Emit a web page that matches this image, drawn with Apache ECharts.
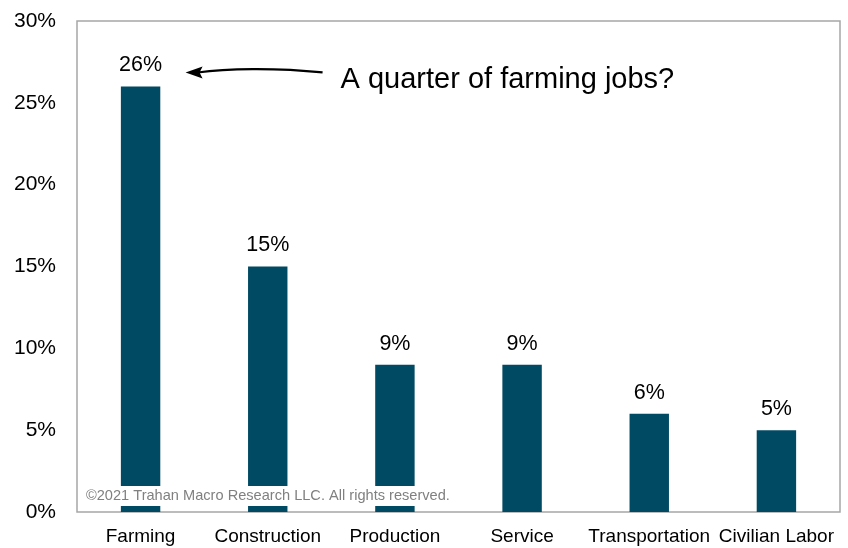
<!DOCTYPE html>
<html>
<head>
<meta charset="utf-8">
<script src="https://cdn.jsdelivr.net/npm/echarts@6/dist/echarts.min.js"></script>
<style>
  html, body { margin: 0; padding: 0; background: #fff; }
  #chart { width: 848px; height: 548px; }
</style>
</head>
<body>
<div id="chart"></div>
<script>
// Share of jobs by occupation group
const categories = ['Farming', 'Construction', 'Production', 'Service', 'Transportation', 'Civilian Labor'];
const shares = [26, 15, 9, 9, 6, 5];
const yTicks = { min: 0, max: 30, interval: 5 };
const noteText = 'A quarter of farming jobs?';
const copyrightText = '\u00a92021 Trahan Macro Research LLC. All rights reserved.';

const FONT = '"Liberation Sans", Arial, sans-serif';
const BAR = '#004A63';

const chart = echarts.init(document.getElementById('chart'), null, { renderer: 'canvas' });

chart.setOption({
  animation: false,
  backgroundColor: '#fff',
  grid: {
    left: 77, right: 8, top: 21, bottom: 36,
    show: true, borderColor: '#a6a6a6', borderWidth: 1.5, backgroundColor: 'transparent'
  },
  xAxis: {
    type: 'category',
    data: categories,
    axisLine: { show: false },
    axisTick: { show: false },
    axisLabel: { color: '#000', fontFamily: FONT, fontSize: 19, margin: 15, interval: 0 }
  },
  yAxis: {
    type: 'value',
    min: yTicks.min, max: yTicks.max, interval: yTicks.interval,
    axisLine: { show: false },
    axisTick: { show: false },
    splitLine: { show: false },
    axisLabel: { color: '#000', fontFamily: FONT, fontSize: 21, margin: 21, formatter: v => v + '%' }
  },
  series: [{
    type: 'bar',
    data: shares,
    barWidth: '31%',
    itemStyle: { color: BAR },
    label: {
      show: true, position: 'top', distance: 10,
      color: '#000', fontFamily: FONT, fontSize: 21.5,
      formatter: p => p.value + '%'
    }
  }]
});

// Annotation arrow and copyright, positioned from the chart's own scales
const farm = chart.convertToPixel({ gridIndex: 0 }, [0, shares[0]]);
const origin = chart.convertToPixel({ gridIndex: 0 }, [0, 0]);
const tipX = farm[0] + 45;
const tipY = farm[1] - 14;
const tailX = tipX + 137;

chart.setOption({
  graphic: [
    {
      type: 'bezierCurve', z: 10,
      shape: { x1: tailX, y1: tipY, cpx1: tipX + 90, cpy1: tipY - 5, cpx2: tipX + 40, cpy2: tipY - 4, x2: tipX + 12, y2: tipY },
      style: { stroke: '#000', lineWidth: 2.2, fill: null }
    },
    {
      type: 'polygon', z: 10,
      shape: { points: [[tipX, tipY], [tipX + 17, tipY - 6], [tipX + 14, tipY], [tipX + 17, tipY + 6]] },
      style: { fill: '#000' }
    },
    {
      type: 'text', z: 10,
      left: tailX + 18, top: tipY - 7,
      style: { text: noteText, fill: '#000', font: '29px ' + FONT }
    },
    {
      type: 'text', z: 20,
      left: 82, top: origin[1] - 26,
      style: {
        text: copyrightText, fill: '#808080', font: '14.6px ' + FONT,
        backgroundColor: '#fff', padding: [2, 3, 3, 4]
      }
    }
  ]
});
</script>
</body>
</html>
